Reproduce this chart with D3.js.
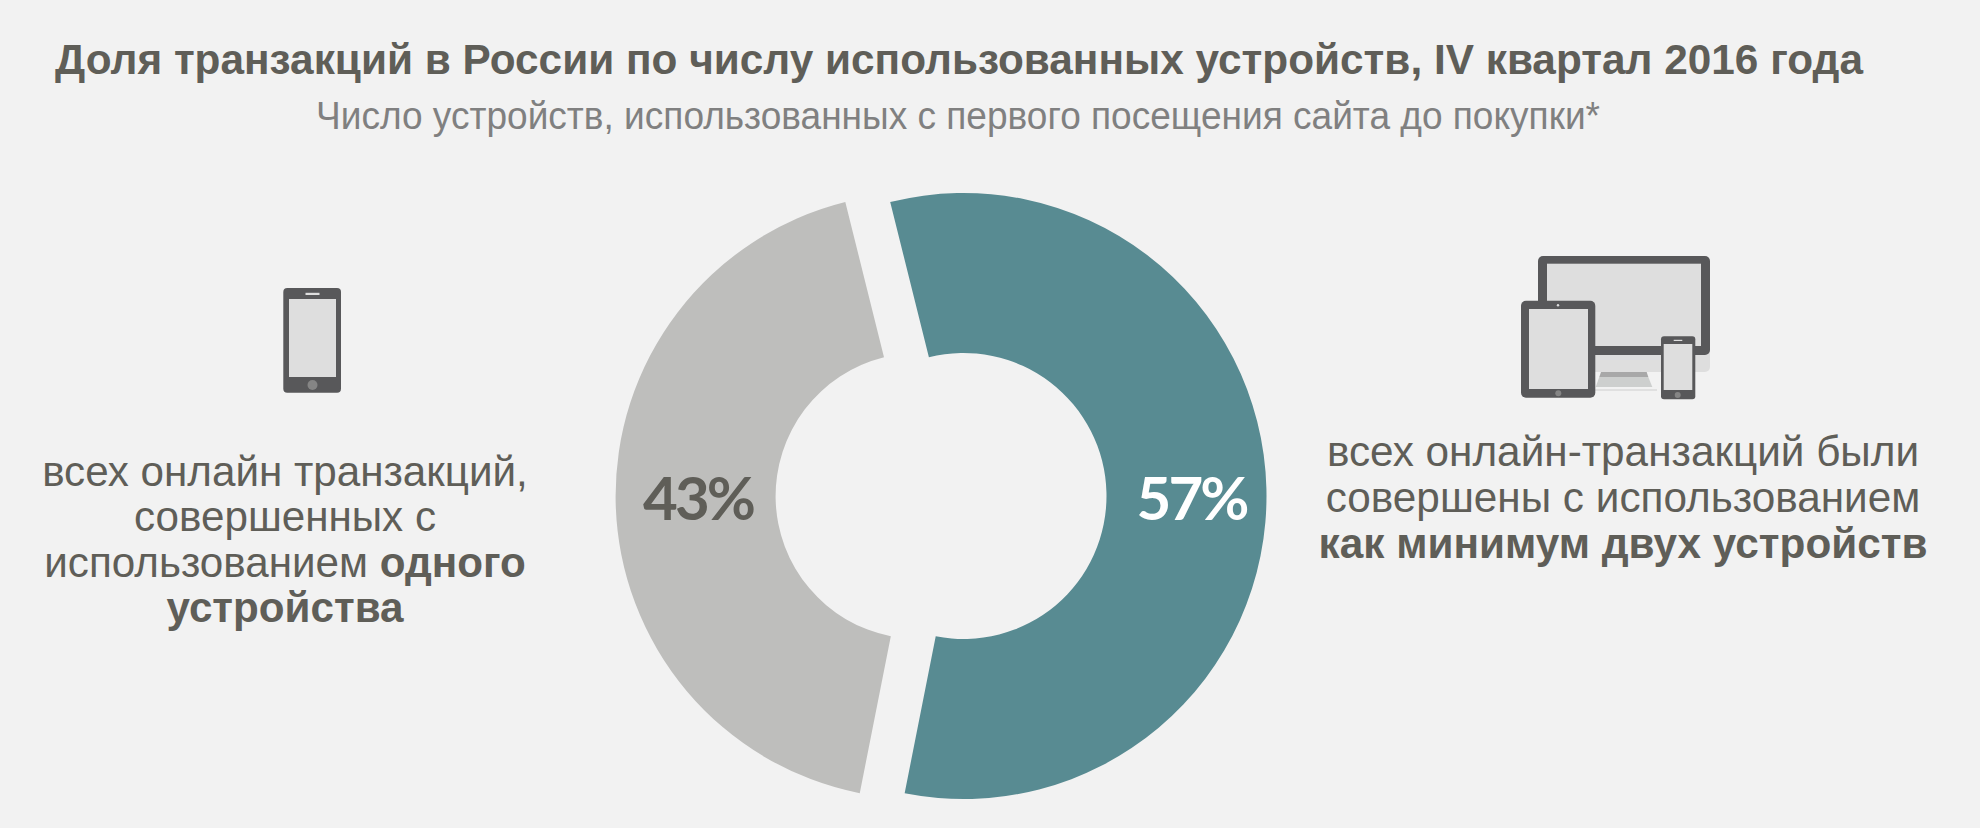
<!DOCTYPE html>
<html>
<head>
<meta charset="utf-8">
<script src="https://cdn.jsdelivr.net/npm/d3@7"></script>
<style>
  html, body { margin: 0; background: #f2f2f2; overflow: hidden; }
  svg { display: block; }
  text { font-family: "Liberation Sans", Arial, sans-serif; }
</style>
</head>
<body>
<svg id="chart" width="1980" height="828"></svg>
<script>
const categories = ["как минимум два устройства", "одно устройство"];
const shares = [57, 43];
const shareLabels = ["57%", "43%"];
const sliceColors = ["#588b92", "#bebebc"];
const labelColors = ["#ffffff", "#5f5e58"];

const titleText = "Доля транзакций в России по числу использованных устройств, IV квартал 2016 года";
const subtitleText = "Число устройств, использованных с первого посещения сайта до покупки*";

// each line is a list of [text, bold] runs
const leftLines = [
  [["всех онлайн транзакций,", false]],
  [["совершенных с", false]],
  [["использованием ", false], ["одного", true]],
  [["устройства", true]]
];
const rightLines = [
  [["всех онлайн-транзакций были", false]],
  [["совершены с использованием", false]],
  [["как минимум двух устройств", true]]
];

const svg = d3.select("#chart");
const textColor = "#5f5e58";
const iconDark = "#58585a", iconLight = "#dedede", iconMid = "#858585";

svg.append("text").attr("x", 55).attr("y", 74)
  .attr("font-size", 42.5).attr("font-weight", "bold").attr("fill", textColor)
  .attr("textLength", 1808).attr("lengthAdjust", "spacingAndGlyphs")
  .text(titleText);
svg.append("text").attr("x", 316).attr("y", 129)
  .attr("font-size", 38).attr("fill", "#808080")
  .attr("textLength", 1284).attr("lengthAdjust", "spacingAndGlyphs")
  .text(subtitleText);

// exploded donut: the two slices sit on their own centres, 45px apart
const cy = 496;
const sliceCx = [963.5, 918.6];
const outerR = 303, innerR = 143;

const startDeg = -14;
const pie = d3.pie().sort(null)
  .startAngle(startDeg * Math.PI / 180)
  .endAngle(startDeg * Math.PI / 180 + 2 * Math.PI);
const arc = d3.arc().innerRadius(innerR).outerRadius(outerR);

svg.selectAll(".slice")
  .data(pie(shares)).enter().append("path")
  .attr("class", "slice")
  .attr("transform", (d, i) => `translate(${sliceCx[i]},${cy})`)
  .attr("d", arc)
  .attr("fill", (d, i) => sliceColors[i]);

svg.selectAll(".share")
  .data(shareLabels).enter().append("text")
  .attr("class", "share")
  .attr("x", (d, i) => i === 0 ? 1191.5 : 698)
  .attr("y", 520)
  .attr("text-anchor", "middle")
  .attr("font-size", 60)
  .attr("font-weight", "bold")
  .attr("letter-spacing", -3)
  .style("font-family", "Lato")
  .attr("fill", (d, i) => labelColors[i])
  .text(d => d);

function block(lines, x, y0, step, size) {
  lines.forEach((runs, i) => {
    const line = svg.append("text").attr("x", x).attr("y", y0 + i * step)
      .attr("text-anchor", "middle").attr("font-size", size).attr("fill", textColor);
    runs.forEach(r => line.append("tspan").attr("font-weight", r[1] ? "bold" : "normal").text(r[0]));
  });
}
block(leftLines, 285, 485.5, 45.6, 42.2);
block(rightLines, 1623, 465.5, 46, 42.3);

function box(x0, y0, x1, y1, fill, r) {
  svg.append("rect").attr("x", x0).attr("y", y0).attr("width", x1 - x0).attr("height", y1 - y0)
    .attr("rx", r || 0).attr("fill", fill);
}
function dot(x, y, r, fill) {
  svg.append("circle").attr("cx", x).attr("cy", y).attr("r", r).attr("fill", fill);
}

// phone, left
box(283.3, 288, 341, 392.7, iconDark, 4);
box(289, 299, 336, 377, iconLight);
box(305.5, 292.8, 319.5, 295, iconLight);
dot(312.5, 385, 5, iconMid);

// monitor
box(1538, 330, 1710, 372, iconLight, 5);
box(1538, 256, 1710, 355, iconDark, 5);
box(1547, 263.7, 1701, 346, iconLight);
svg.append("path").attr("d", "M1601,372H1646.7L1648.3,377H1599.3Z").attr("fill", "#a8a8a8");
svg.append("path").attr("d", "M1599.3,377H1648.3L1652.3,387H1595.7Z").attr("fill", "#cdcfce");
box(1595, 389, 1657, 391, "#e0e0e0");

// tablet
box(1521, 300.7, 1595.3, 397.7, iconDark, 5);
box(1529, 309, 1588, 389, iconLight);
dot(1558, 305.3, 1.2, iconLight);
dot(1558.3, 393.3, 3, iconMid);

// small phone
box(1661, 336.3, 1695.3, 399.3, iconDark, 3);
box(1663.7, 344, 1692.3, 390, iconLight);
box(1673.7, 339.8, 1682.3, 341, iconLight);
dot(1677.7, 395, 3, iconMid);
</script>
</body>
</html>
